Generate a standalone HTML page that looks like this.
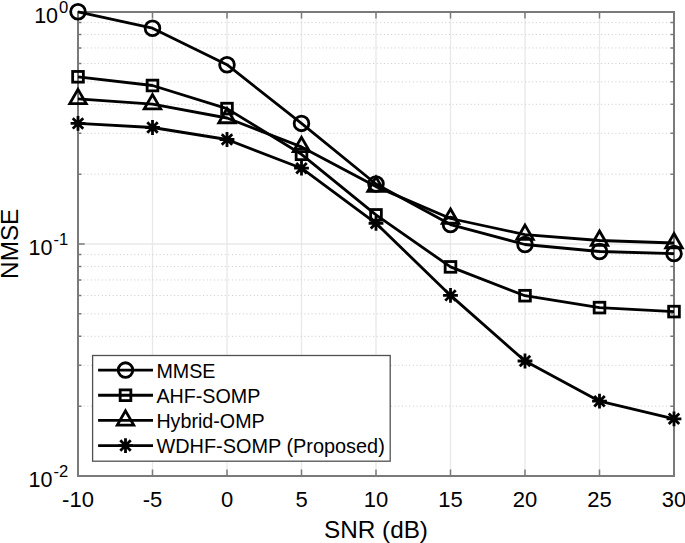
<!DOCTYPE html><html><head><meta charset="utf-8"><style>html,body{margin:0;padding:0;background:#fff;overflow:hidden}svg{display:block}text{font-family:"Liberation Sans", sans-serif;fill:#000}</style></head><body>
<svg width="685" height="543" viewBox="0 0 685 543">
<rect width="685" height="543" fill="#fff"/>
<path d="M152.50 12.0V476.0 M227.00 12.0V476.0 M301.50 12.0V476.0 M376.00 12.0V476.0 M450.50 12.0V476.0 M525.00 12.0V476.0 M599.50 12.0V476.0" stroke="#e8e8e8" stroke-width="1.3" fill="none"/>
<path d="M78.0 244.00H674.0" stroke="#e8e8e8" stroke-width="1.3" fill="none"/>
<path d="M83.7 406.16H671.0 M83.7 365.31H671.0 M83.7 336.32H671.0 M83.7 313.84H671.0 M83.7 295.47H671.0 M83.7 279.94H671.0 M83.7 266.48H671.0 M83.7 254.62H671.0 M83.7 174.16H671.0 M83.7 133.31H671.0 M83.7 104.32H671.0 M83.7 81.84H671.0 M83.7 63.47H671.0 M83.7 47.94H671.0 M83.7 34.48H671.0 M83.7 22.62H671.0" stroke="#cbcbcb" stroke-width="1" stroke-dasharray="1 2.617" fill="none"/>
<rect x="78.0" y="12.0" width="596.00" height="464.00" fill="none" stroke="#7a7a7a" stroke-width="2"/>
<path d="M78.00 476.0v-6.6M78.00 12.0v6.6M152.50 476.0v-6.6M152.50 12.0v6.6M227.00 476.0v-6.6M227.00 12.0v6.6M301.50 476.0v-6.6M301.50 12.0v6.6M376.00 476.0v-6.6M376.00 12.0v6.6M450.50 476.0v-6.6M450.50 12.0v6.6M525.00 476.0v-6.6M525.00 12.0v6.6M599.50 476.0v-6.6M599.50 12.0v6.6M674.00 476.0v-6.6M674.00 12.0v6.6M78.0 12.00h6.6M674.0 12.00h-6.6M78.0 244.00h6.6M674.0 244.00h-6.6M78.0 476.00h6.6M674.0 476.00h-6.6M78.0 406.16h3.5M674.0 406.16h-3.5M78.0 365.31h3.5M674.0 365.31h-3.5M78.0 336.32h3.5M674.0 336.32h-3.5M78.0 313.84h3.5M674.0 313.84h-3.5M78.0 295.47h3.5M674.0 295.47h-3.5M78.0 279.94h3.5M674.0 279.94h-3.5M78.0 266.48h3.5M674.0 266.48h-3.5M78.0 254.62h3.5M674.0 254.62h-3.5M78.0 174.16h3.5M674.0 174.16h-3.5M78.0 133.31h3.5M674.0 133.31h-3.5M78.0 104.32h3.5M674.0 104.32h-3.5M78.0 81.84h3.5M674.0 81.84h-3.5M78.0 63.47h3.5M674.0 63.47h-3.5M78.0 47.94h3.5M674.0 47.94h-3.5M78.0 34.48h3.5M674.0 34.48h-3.5M78.0 22.62h3.5M674.0 22.62h-3.5" stroke="#7a7a7a" stroke-width="1.5" fill="none"/>
<text x="78.00" y="506.7" font-size="22" text-anchor="middle">-10</text>
<text x="152.50" y="506.7" font-size="22" text-anchor="middle">-5</text>
<text x="227.00" y="506.7" font-size="22" text-anchor="middle">0</text>
<text x="301.50" y="506.7" font-size="22" text-anchor="middle">5</text>
<text x="376.00" y="506.7" font-size="22" text-anchor="middle">10</text>
<text x="450.50" y="506.7" font-size="22" text-anchor="middle">15</text>
<text x="525.00" y="506.7" font-size="22" text-anchor="middle">20</text>
<text x="599.50" y="506.7" font-size="22" text-anchor="middle">25</text>
<text x="674.00" y="506.7" font-size="22" text-anchor="middle">30</text>
<text x="68.3" y="23.30" font-size="21.5" text-anchor="end">10<tspan dx="1.0" dy="-10.7" font-size="16.6">0</tspan></text>
<text x="68.3" y="255.30" font-size="21.5" text-anchor="end">10<tspan dx="1.0" dy="-10.7" font-size="16.6">-1</tspan></text>
<text x="68.3" y="487.30" font-size="21.5" text-anchor="end">10<tspan dx="1.0" dy="-10.7" font-size="16.6">-2</tspan></text>
<text x="376" y="538.3" font-size="24.3" text-anchor="middle">SNR (dB)</text>
<text transform="translate(18,243.8) rotate(-90)" font-size="24.3" text-anchor="middle">NMSE</text>
<polyline points="78.00,11.80 152.50,28.20 227.00,64.70 301.50,123.40 376.00,184.00 450.50,224.60 525.00,244.50 599.50,251.50 674.00,253.60" fill="none" stroke="#000" stroke-width="2.8" stroke-linejoin="round"/>
<circle cx="78.00" cy="11.80" r="7.35" fill="none" stroke="#000" stroke-width="2.8"/>
<circle cx="152.50" cy="28.20" r="7.35" fill="none" stroke="#000" stroke-width="2.8"/>
<circle cx="227.00" cy="64.70" r="7.35" fill="none" stroke="#000" stroke-width="2.8"/>
<circle cx="301.50" cy="123.40" r="7.35" fill="none" stroke="#000" stroke-width="2.8"/>
<circle cx="376.00" cy="184.00" r="7.35" fill="none" stroke="#000" stroke-width="2.8"/>
<circle cx="450.50" cy="224.60" r="7.35" fill="none" stroke="#000" stroke-width="2.8"/>
<circle cx="525.00" cy="244.50" r="7.35" fill="none" stroke="#000" stroke-width="2.8"/>
<circle cx="599.50" cy="251.50" r="7.35" fill="none" stroke="#000" stroke-width="2.8"/>
<circle cx="674.00" cy="253.60" r="7.35" fill="none" stroke="#000" stroke-width="2.8"/>
<polyline points="78.00,76.80 152.50,85.50 227.00,108.60 301.50,154.30 376.00,214.90 450.50,266.90 525.00,295.70 599.50,307.60 674.00,311.60" fill="none" stroke="#000" stroke-width="2.8" stroke-linejoin="round"/>
<rect x="72.65" y="71.45" width="10.70" height="10.70" fill="none" stroke="#000" stroke-width="2.8"/>
<rect x="147.15" y="80.15" width="10.70" height="10.70" fill="none" stroke="#000" stroke-width="2.8"/>
<rect x="221.65" y="103.25" width="10.70" height="10.70" fill="none" stroke="#000" stroke-width="2.8"/>
<rect x="296.15" y="148.95" width="10.70" height="10.70" fill="none" stroke="#000" stroke-width="2.8"/>
<rect x="370.65" y="209.55" width="10.70" height="10.70" fill="none" stroke="#000" stroke-width="2.8"/>
<rect x="445.15" y="261.55" width="10.70" height="10.70" fill="none" stroke="#000" stroke-width="2.8"/>
<rect x="519.65" y="290.35" width="10.70" height="10.70" fill="none" stroke="#000" stroke-width="2.8"/>
<rect x="594.15" y="302.25" width="10.70" height="10.70" fill="none" stroke="#000" stroke-width="2.8"/>
<rect x="668.65" y="306.25" width="10.70" height="10.70" fill="none" stroke="#000" stroke-width="2.8"/>
<polyline points="78.00,98.90 152.50,104.10 227.00,118.00 301.50,146.90 376.00,186.60 450.50,218.50 525.00,234.60 599.50,240.50 674.00,243.00" fill="none" stroke="#000" stroke-width="2.8" stroke-linejoin="round"/>
<path d="M78.00 89.40L86.23 103.65L69.77 103.65Z" fill="none" stroke="#000" stroke-width="2.8"/>
<path d="M152.50 94.60L160.73 108.85L144.27 108.85Z" fill="none" stroke="#000" stroke-width="2.8"/>
<path d="M227.00 108.50L235.23 122.75L218.77 122.75Z" fill="none" stroke="#000" stroke-width="2.8"/>
<path d="M301.50 137.40L309.73 151.65L293.27 151.65Z" fill="none" stroke="#000" stroke-width="2.8"/>
<path d="M376.00 177.10L384.23 191.35L367.77 191.35Z" fill="none" stroke="#000" stroke-width="2.8"/>
<path d="M450.50 209.00L458.73 223.25L442.27 223.25Z" fill="none" stroke="#000" stroke-width="2.8"/>
<path d="M525.00 225.10L533.23 239.35L516.77 239.35Z" fill="none" stroke="#000" stroke-width="2.8"/>
<path d="M599.50 231.00L607.73 245.25L591.27 245.25Z" fill="none" stroke="#000" stroke-width="2.8"/>
<path d="M674.00 233.50L682.23 247.75L665.77 247.75Z" fill="none" stroke="#000" stroke-width="2.8"/>
<polyline points="78.00,123.40 152.50,127.50 227.00,139.50 301.50,168.20 376.00,223.30 450.50,295.40 525.00,361.00 599.50,401.20 674.00,418.80" fill="none" stroke="#000" stroke-width="2.8" stroke-linejoin="round"/>
<path d="M72.00 123.40h12.00M78.00 117.40v12.00M73.76 119.16l8.49 8.49M73.76 127.64l8.49 -8.49" stroke="#000" stroke-width="2.8" stroke-linecap="square" fill="none"/>
<path d="M146.50 127.50h12.00M152.50 121.50v12.00M148.26 123.26l8.49 8.49M148.26 131.74l8.49 -8.49" stroke="#000" stroke-width="2.8" stroke-linecap="square" fill="none"/>
<path d="M221.00 139.50h12.00M227.00 133.50v12.00M222.76 135.26l8.49 8.49M222.76 143.74l8.49 -8.49" stroke="#000" stroke-width="2.8" stroke-linecap="square" fill="none"/>
<path d="M295.50 168.20h12.00M301.50 162.20v12.00M297.26 163.96l8.49 8.49M297.26 172.44l8.49 -8.49" stroke="#000" stroke-width="2.8" stroke-linecap="square" fill="none"/>
<path d="M370.00 223.30h12.00M376.00 217.30v12.00M371.76 219.06l8.49 8.49M371.76 227.54l8.49 -8.49" stroke="#000" stroke-width="2.8" stroke-linecap="square" fill="none"/>
<path d="M444.50 295.40h12.00M450.50 289.40v12.00M446.26 291.16l8.49 8.49M446.26 299.64l8.49 -8.49" stroke="#000" stroke-width="2.8" stroke-linecap="square" fill="none"/>
<path d="M519.00 361.00h12.00M525.00 355.00v12.00M520.76 356.76l8.49 8.49M520.76 365.24l8.49 -8.49" stroke="#000" stroke-width="2.8" stroke-linecap="square" fill="none"/>
<path d="M593.50 401.20h12.00M599.50 395.20v12.00M595.26 396.96l8.49 8.49M595.26 405.44l8.49 -8.49" stroke="#000" stroke-width="2.8" stroke-linecap="square" fill="none"/>
<path d="M668.00 418.80h12.00M674.00 412.80v12.00M669.76 414.56l8.49 8.49M669.76 423.04l8.49 -8.49" stroke="#000" stroke-width="2.8" stroke-linecap="square" fill="none"/>
<rect x="92.6" y="355.5" width="297.60" height="105.70" fill="#fff" stroke="#505050" stroke-width="1.3"/>
<path d="M98.1 370.10H153" stroke="#000" stroke-width="2.8"/>
<circle cx="125.50" cy="370.10" r="7.35" fill="none" stroke="#000" stroke-width="2.8"/>
<text x="156.4" y="377.50" font-size="19.7">MMSE</text>
<path d="M98.1 395.25H153" stroke="#000" stroke-width="2.8"/>
<rect x="120.15" y="389.90" width="10.70" height="10.70" fill="none" stroke="#000" stroke-width="2.8"/>
<text x="156.4" y="402.65" font-size="19.7">AHF-SOMP</text>
<path d="M98.1 420.40H153" stroke="#000" stroke-width="2.8"/>
<path d="M125.50 410.90L133.73 425.15L117.27 425.15Z" fill="none" stroke="#000" stroke-width="2.8"/>
<text x="156.4" y="427.80" font-size="19.7">Hybrid-OMP</text>
<path d="M98.1 445.55H153" stroke="#000" stroke-width="2.8"/>
<path d="M119.50 445.55h12.00M125.50 439.55v12.00M121.26 441.31l8.49 8.49M121.26 449.79l8.49 -8.49" stroke="#000" stroke-width="2.8" stroke-linecap="square" fill="none"/>
<text x="156.4" y="452.95" font-size="19.9">WDHF-SOMP (Proposed)</text>
</svg></body></html>
